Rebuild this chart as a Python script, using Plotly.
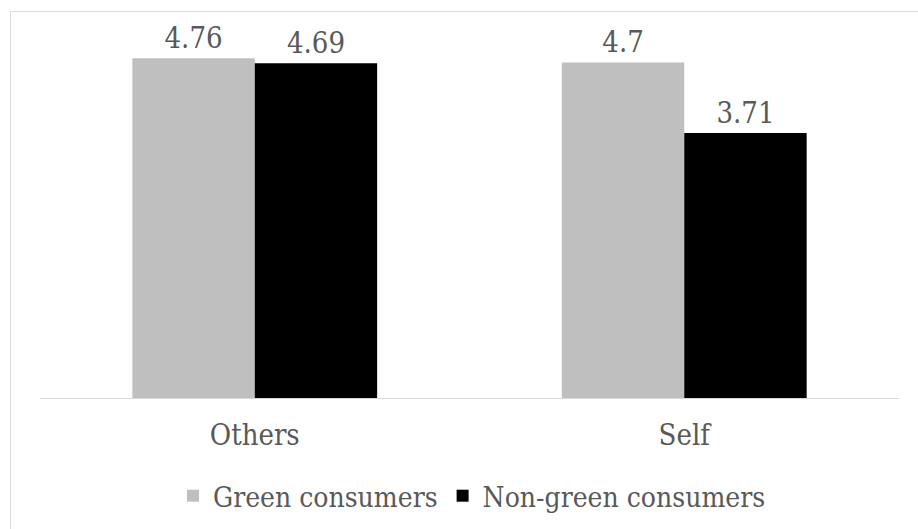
import plotly.graph_objects as go

categories = ["Others", "Self"]
green_values = [4.76, 4.70]
nongreen_values = [4.69, 3.71]
green_labels = ["4.76", "4.7"]
nongreen_labels = ["4.69", "3.71"]
series_names = ["Green consumers", "Non-green consumers"]

W, H = 918, 529
L, R, T, B = 40, 19, 41, 130.5
TEXT = "#595959"
FONT = "DejaVu Serif Condensed"

fig = go.Figure()
fig.add_trace(go.Bar(x=categories, y=green_values, name=series_names[0],
                     marker=dict(color="#BFBFBF", line=dict(width=0)),
                     text=green_labels, textposition="outside", cliponaxis=False,
                     textfont=dict(size=29, color=TEXT, family=FONT)))
fig.add_trace(go.Bar(x=categories, y=nongreen_values, name=series_names[1],
                     marker=dict(color="#000000", line=dict(width=0)),
                     text=nongreen_labels, textposition="outside", cliponaxis=False,
                     textfont=dict(size=29, color=TEXT, family=FONT)))

pw = W - L - R
ph = H - T - B
def px_to_paper_x(px):
    return (px - L) / pw
def px_to_paper_y(py):
    return (H - B - py) / ph

fig.add_shape(type="rect", xref="paper", yref="paper",
              x0=px_to_paper_x(10.5), x1=px_to_paper_x(W + 20),
              y0=px_to_paper_y(H + 20), y1=px_to_paper_y(11.5),
              line=dict(color="#D9D9D9", width=1), fillcolor="rgba(0,0,0,0)", layer="below")

fig.update_layout(
    width=W, height=H,
    margin=dict(l=L, r=R, t=T, b=B, pad=0),
    paper_bgcolor="white", plot_bgcolor="white",
    barmode="group", bargap=0.43, bargroupgap=0,
    font=dict(family=FONT, color=TEXT, size=29),
    showlegend=True,
    legend=dict(orientation="h", xref="container", yref="container",
                x=472 / W, y=1 - 496 / H, xanchor="center", yanchor="middle",
                font=dict(size=28, color=TEXT, family=FONT),
                itemwidth=30, bgcolor="rgba(0,0,0,0)"),
    xaxis=dict(showline=True, linecolor="#D9D9D9", linewidth=1, ticks="",
               showgrid=False, tickfont=dict(size=29, color=TEXT, family=FONT),
               ticklabelstandoff=11, fixedrange=True),
    yaxis=dict(range=[0, 5], showticklabels=False, showgrid=False, zeroline=False,
               showline=False, ticks="", fixedrange=True),
)

fig.write_html("out.html")
